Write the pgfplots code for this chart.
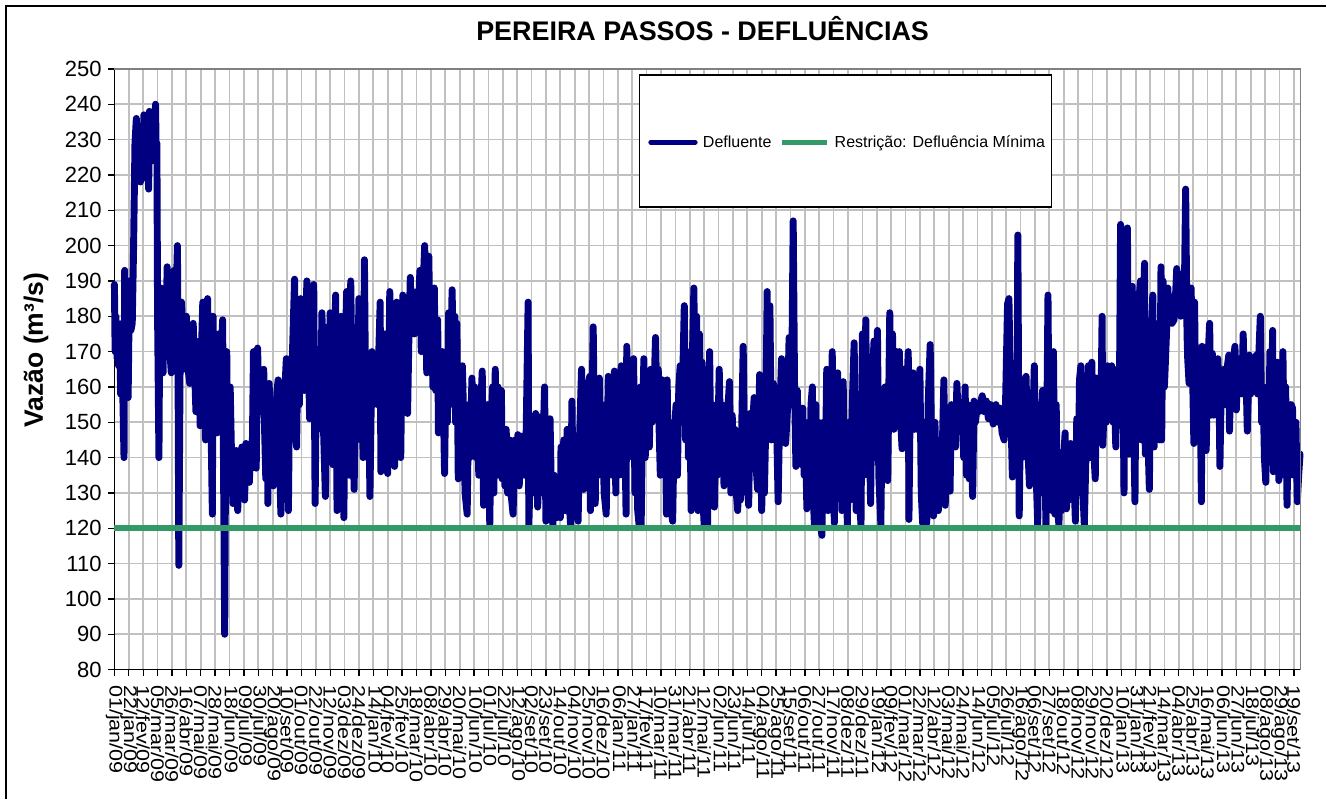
\documentclass[border=0pt]{standalone}
\usepackage{fontspec}
\setmainfont{Liberation Sans}
\newfontfamily\xfont[FakeStretch=1.18]{Liberation Sans}
\usepackage{pgfplots}
\pgfplotsset{compat=1.18}
\definecolor{navyd}{HTML}{000080}
\definecolor{greenr}{HTML}{339966}
\definecolor{gridg}{HTML}{C0C0C0}
\begin{document}
\begin{tikzpicture}
\path (0pt,0pt) rectangle (995.25pt,599.25pt);
\draw[black,line width=1.2pt] (4.7pt,0pt) -- (4.7pt,594.8pt) -- (995.25pt,594.8pt);
\begin{axis}[
  at={(85.875pt,96.75pt)},anchor=south west,
  scale only axis,width=890.25pt,height=450.75pt,
  xmin=0,xmax=1732,ymin=80,ymax=250,
  clip=false,
  axis x line*=bottom,axis y line*=left,
  axis line style={black,line width=1pt,-},
  grid=major,grid style={gridg,line width=1.3pt},
  xtick={0,21,...,1722},
  xticklabels={01/jan/09,22/jan/09,12/fev/09,05/mar/09,26/mar/09,16/abr/09,07/mai/09,28/mai/09,18/jun/09,09/jul/09,30/jul/09,20/ago/09,10/set/09,01/out/09,22/out/09,12/nov/09,03/dez/09,24/dez/09,14/jan/10,04/fev/10,25/fev/10,18/mar/10,08/abr/10,29/abr/10,20/mai/10,10/jun/10,01/jul/10,22/jul/10,12/ago/10,02/set/10,23/set/10,14/out/10,04/nov/10,25/nov/10,16/dez/10,06/jan/11,27/jan/11,17/fev/11,10/mar/11,31/mar/11,21/abr/11,12/mai/11,02/jun/11,23/jun/11,14/jul/11,04/ago/11,25/ago/11,15/set/11,06/out/11,27/out/11,17/nov/11,08/dez/11,29/dez/11,19/jan/12,09/fev/12,01/mar/12,22/mar/12,12/abr/12,03/mai/12,24/mai/12,14/jun/12,05/jul/12,26/jul/12,16/ago/12,06/set/12,27/set/12,18/out/12,08/nov/12,29/nov/12,20/dez/12,10/jan/13,31/jan/13,21/fev/13,14/mar/13,04/abr/13,25/abr/13,16/mai/13,06/jun/13,27/jun/13,18/jul/13,08/ago/13,29/ago/13,19/set/13},
  ytick={80,90,...,250},
  /pgf/number format/assume math mode=true,
  tick align=outside,major tick length=4.5pt,
  tick style={black,line width=1pt},
  xticklabel style={rotate=-90,anchor=west,font=\xfont\fontsize{13.7}{14}\selectfont,xshift=7pt,yshift=0pt,inner sep=0pt},
  yticklabel style={font=\fontsize{16.5}{18}\selectfont,inner sep=0pt,xshift=-5pt},
  title={PEREIRA PASSOS - DEFLUÊNCIAS},
  title style={at={(axis description cs:0.4958,1.0535)},anchor=center,font=\bfseries\fontsize{20.2}{22}\selectfont},
  ylabel={Vazão (m³/s)},
  ylabel style={at={(axis description cs:-0.0661,0.532)},anchor=center,font=\bfseries\fontsize{19.9}{22}\selectfont},
  legend columns=2,
  legend style={at={(axis description cs:0.6184,0.878)},anchor=center,draw=none,fill=none,
    font=\fontsize{12}{14}\selectfont,inner sep=0pt,
    /tikz/column 1/.style={column sep=2pt},/tikz/column 2/.style={column sep=4.5pt},/tikz/column 3/.style={column sep=2pt}},
  legend cell align=left,
  legend image code/.code={\draw[#1,line width=3.5pt] (0pt,0pt) -- (33.5pt,0pt);},
]
\addplot[navyd,line width=5.2pt,line join=round,line cap=round] coordinates {
(0,189)(1,170)(2,180)(4,168)(5,178)(6,166)(8,177)(9,158)(11,178)(12,160)(14,140)(15,193)(16,170)(17,158)(19,175)(20,157)(22,190)(24,176)(26,178)(28,200)(30,229)(32,236)(34,222)(35,232)(37,231)(38,218)(40,228)(41,219)(43,237)(45,222)(46,235)(48,224)(50,216)(51,238)(53,226)(55,224)(57,236)(58,225)(60,240)(61,226)(62,229)(63,180)(65,140)(66,175)(68,188)(69,170)(71,164)(73,186)(75,172)(77,194)(79,178)(80,186)(81,170)(83,164)(85,178)(87,193)(89,172)(90,185)(92,200)(93,160)(94,109.5)(96,170)(98,184)(100,175)(101,165)(103,178)(105,180)(107,166)(110,161)(112,175)(113,163)(115,178)(117,165)(119,153)(121,170)(122,158)(124,173)(125,149)(127,170)(129,184)(131,160)(133,145)(134,172)(136,185)(138,160)(140,175)(141,150)(143,124)(144,180)(146,155)(148,172)(150,147)(152,175)(154,150)(156,170)(158,179)(159,145)(161,90)(162,130)(164,170)(165,145)(167,160)(169,160)
(171,140)(173,127)(175,142)(177,128)(178,142)(180,125)(182,140)(184,130)(186,143)(188,131)(190,128)(192,144)(194,135)(195,143)(197,133)(199,144)(201,137)(203,170)(205,150)(207,137)(209,171)(211,155)(212,160)(214,153)(216,163)(218,165)(219,150)(221,134)(223,158)(224,127)(226,161)(228,135)(230,150)(232,132)(234,155)(235,136)(237,158)(239,162)(241,140)(243,124)(245,150)(247,135)(249,160)(251,168)(253,140)(254,125)(256,165)(258,145)(260,170)(263,190.5)(264,160)(266,143)(268,175)(270,155)(272,185)(274,165)(276,178)(277,159)(279,175)(281,190)(283,170)(285,151)(287,180)(289,160)(291,189)(293,127)(295,165)(297,148)(299,170)(301,155)(303,181)(305,150)(308,129)
(311,177)(313,150)(315,181)(317,155)(319,138)(321,170)(323,186)(325,125)(327,165)(329,145)(331,180)(333,150)(335,123)(337,170)(339,187)(341,150)(343,135)(345,190)(347,160)(350,131)(352,165)(354,145)(357,185)(359,155)(361,175)(363,140)(365,196)(367,150)(369,140)(371,165)(373,129)(376,170)(378,155)(380,160)(382,165)(384,155)(386,170)(388,184)(389,136)(391,165)(393,145)(395,175)(397,140)(399,135.5)(402,187)(404,155)(406,175)(407,140)(409,137.5)(412,184)(414,150)(416,175)(418,140)(421,186)(423,160)(425,178)(428,152.5)(430,175)(432,191)(434,175)(436,187)(438,175)(441,183)(443,178)(446,193)(448,170)(450,185)(453,200)(455,175)(456,164)(459,197)(461,170)(463,180)(465,160)(467,188)(469,159)(472,179)(473,147)(475,165)(477,150)(479,170)(482,135.5)(484,165)(486,150)(488,181)(490,155)(493,187.5)(495,165)(497,180)(498,150)(500,178)(502,134)(504,155)(506,140)(508,166)(510,150)(512,130)(515,124)(517,155)(519,140)(522,162.5)(524,144)(526,160)(528,140)(530,150)(532,135)(535,155)(537,164.5)(539,126.5)(541,150)(543,130)(545,155)(548,121)(550,150)(552,160)(554,130)(556,165)(558,145)(560,160)(562,135)(565,159)(566,134)(568,145)(570,132)(572,148)(574,130)
(577,145)(579,130)(582,124)(585,145)(587,135)(589,146.5)(591,132)(594,146)(596,146)(599,135)(601,145)(604,184)(605,120.5)(607,135)(609,150)(611,130)(613,148)(615,152.5)(618,126)(621,151.5)(623,130)(626,145)(628,160)(630,122)(633,150)(634,125)(636,151)(638,130)(640,121)(642,135)(644,128)(646,123)(648,130)(651,123)(652,143)(654,125)(656,145)(658,125)(661,148)(663,130)(666,121)(668,156)(670,125)(672,143)(675,125)(677,122)(679,145)(682,165)(684,135)(685,131)(687,155)(689,135)(691,160)(694,163)(695,125)(697,150)(699,177)(702,127)(704,160)(706,135)(708,162.5)(710,140)(712,155)(715,130)(718,124)(721,163)(723,140)(725,155)(727,135)(730,164.5)(732,130)(734,160)(736,135)(738,155)(740,166)(743,135)(745,150)(747,124)(748,171.5)(750,140)(752,165)(754,145)(756,160)(758,168)(760,130)(762,155)(764,125)(766,121)(768,160)(769,120.5)(771,150)(773,168)(775,140)(777,160)(779,150)(781,143)(783,165)(785,150)(788,160)(790,174)(792,155)(794,165)(795,150)(797,135)(800,162)(802,140)(804,155)(806,124)(807,162)(809,130)(811,150)(813,125)(815,122)(817,145)(820,155)(822,135)(824,160)(826,166)(828,150)(830,165)(832,183)(834,145)(836,170)(838,140)(840,160)(842,125)(844,170)(846,188)(848,150)(850,180)(852,125)(854,175)(856,135)(858,167)(860,125)(861,121)
(863,165)(865,140)(866,120.5)(869,170)(871,135)(873,155)(876,126)(878,150)(880,135)(883,165)(885,145)(887,155)(890,132)(892,150)(894,135)(896,155)(898,161.5)(900,130)(902,152)(904,135)(906,148)(908,130)(910,125)(912,145)(914,128)(916,150)(918,171.5)(920,140)(922,152)(924,132)(926,126.5)(928,152.5)(930,138)(932,150)(934,157)(936,140)(939,131)(942,163.5)(945,125)(947,145)(949,130)(951,150)(953,187)(955,150)(957,183)(959,145)(962,161)(964,145)(966,158)(969,127.5)(971,150)(974,168)(976,145)(978,160)(980,144)(983,155)(985,174)(987,155)(989,165)(991,207)(993,160)(995,137.5)(997,159)(999,140)(1001,152)(1003,138)(1005,154)(1007,135)(1009,145)(1011,125.5)(1013,150)(1015,130)(1017,155)(1019,160)(1020,130)(1022,121)(1024,155)(1026,125)(1028,150)(1030,122)(1033,118)(1035,150)(1037,125)(1040,165)(1042,125)(1044,155)(1046,130)(1048,170)(1051,121.5)(1053,155)(1056,164)(1058,130)(1060,155)(1062,125)(1064,161.5)(1066,130)(1068,150)(1070,121)(1072,150)(1074,128)(1076,145)(1078,160)(1080,172.5)(1083,125)(1085,155)(1087,130)(1090,121)(1092,175)(1094,135)(1097,179)(1099,140)(1101,160)(1104,127)(1106,160)(1109,173)(1111,140)(1114,176)(1116,135)(1119,121)(1121,155)(1123,140)(1125,160)(1127,135)(1129,133.5)(1132,181)
(1134,150)(1136,175)(1138,148)(1140,160)(1142,170)(1144,150)(1146,170)(1148,150)(1150,142.5)(1152,165)(1154,150)(1157,160)(1159,170)(1160,122.5)(1162,160)(1164,148)(1166,164)(1168,148)(1170,155)(1172,148)(1174,158)(1176,165)(1178,130)(1180,121.5)(1182,150)(1184,125)(1186,121.5)(1188,155)(1191,172)(1193,145)(1196,123.5)(1198,150)(1200,128)(1203,125)(1205,145)(1207,128)(1209,145)(1211,162)(1213,126.5)(1215,150)(1217,135)(1220,130.5)(1222,155)(1224,143)(1226,155)(1228,143)(1230,161)(1232,151.5)(1235,155)(1238,152)(1240,140)(1242,160)(1244,135)(1246,155)(1248,134)(1250,150)(1253,129)(1255,156)(1257,150)(1260,155)(1262,153)(1265,156)(1267,157.5)(1270,153)(1273,156)(1276,151)(1279,155)(1281,152)(1283,149.5)(1285,153)(1287,155)(1290,150)(1293,154)(1296,147)(1299,145)(1301,155)(1304,183.5)(1306,185)(1308,160)(1311,134.5)(1313,160)(1316,145)(1318,165)(1319,203)(1321,123.5)(1323,155)(1325,140)(1328,160)(1331,163)(1333,145)(1336,132)(1338,155)(1341,150)(1343,166)(1345,140)(1348,121)(1350,155)(1352,130)(1355,159)(1357,159)(1360,121)(1363,186)(1365,135)(1367,165)(1369,125)(1371,170)(1373,124)(1375,155)(1377,125)(1379,121)(1381,140)(1383,125)(1386,140)(1388,147)(1390,125.5)(1392,140)(1394,128)(1396,144)(1398,130)(1400,140)(1403,122)(1405,151)(1407,130)(1409,162)(1411,166)(1413,135)(1416,121)(1419,145)
(1422,166)(1424,140)(1427,167)(1429,145)(1432,134)(1434,162.5)(1436,145)(1438,160)(1440,148)(1442,180)(1443,143.5)(1446,160)(1448,150)(1450,166)(1452,152)(1454,160)(1456,166)(1458,150)(1460,158)(1462,143)(1464,165)(1467,150)(1469,206)(1471,160)(1472,175)(1474,130)(1476,185)(1478,160)(1479,205)(1481,141)(1483,185)(1486,188.5)(1488,150)(1490,127.5)(1492,180)(1494,145)(1496,185)(1498,190)(1500,145)(1502,180)(1504,195)(1505,141)(1507,170)(1509,145)(1511,131)(1513,170)(1516,186)(1518,143)(1520,175)(1522,150)(1524,178)(1526,145)(1528,194)(1529,145)(1531,190)(1533,160)(1536,175)(1538,188)(1540,178)(1542,185.5)(1544,178)(1547,179)(1549,185)(1551,193.5)(1553,182)(1555,190)(1557,180)(1559,192)(1562,185)(1564,216)(1566,175)(1567,168)(1569,161)(1571,185)(1572,188)(1574,165)(1576,144)(1577,184)(1579,150)(1581,170)(1583,145)(1585,165)(1587,127.5)(1588,171.5)(1590,150)(1592,165)(1594,142)(1596,165)(1599,178)(1601,152)(1603,169.5)(1605,152)(1607,165)(1609,155)(1611,168)(1613,155)(1614,137.5)(1616,160)(1618,155)(1620,165)(1622,155)(1625,166)(1627,169)(1628,147.5)(1630,165)(1632,155)(1634,168)(1636,171.5)(1638,153.5)(1640,168)(1642,160)(1644,168)(1646,158)(1648,175)(1650,158)(1652,165)(1654,147.5)(1657,169)(1659,158)(1661,168)(1664,159)(1667,169)(1669,158)(1671,170)(1673,180)(1675,150)(1677,160)(1679,140)(1681,133)(1683,160)(1685,140)(1687,170)(1689,150)(1691,176)(1692,136)(1694,165)(1696,140)(1698,167)(1700,133.5)(1702,160)(1704,135)(1706,170)(1708,140)(1710,160)(1712,126.5)(1714,150)(1716,135)(1718,155)(1720,154)(1722,135)(1724,150)(1725,150)(1727,127.5)(1729,135)(1731,141)
};
\addlegendentry{Defluente}
\addplot[greenr,line width=4.6pt] coordinates {(0,120)(1732,120)};
\addlegendentry{Restrição: Defluência Mínima}
\draw[gray,line width=1pt] (rel axis cs:0,1) -- (rel axis cs:1,1) -- (rel axis cs:1,0);
\draw[black,fill=white,line width=1pt] (rel axis cs:0.4427,0.990) rectangle (rel axis cs:0.7898,0.7704);
\end{axis}
\end{tikzpicture}
\end{document}
